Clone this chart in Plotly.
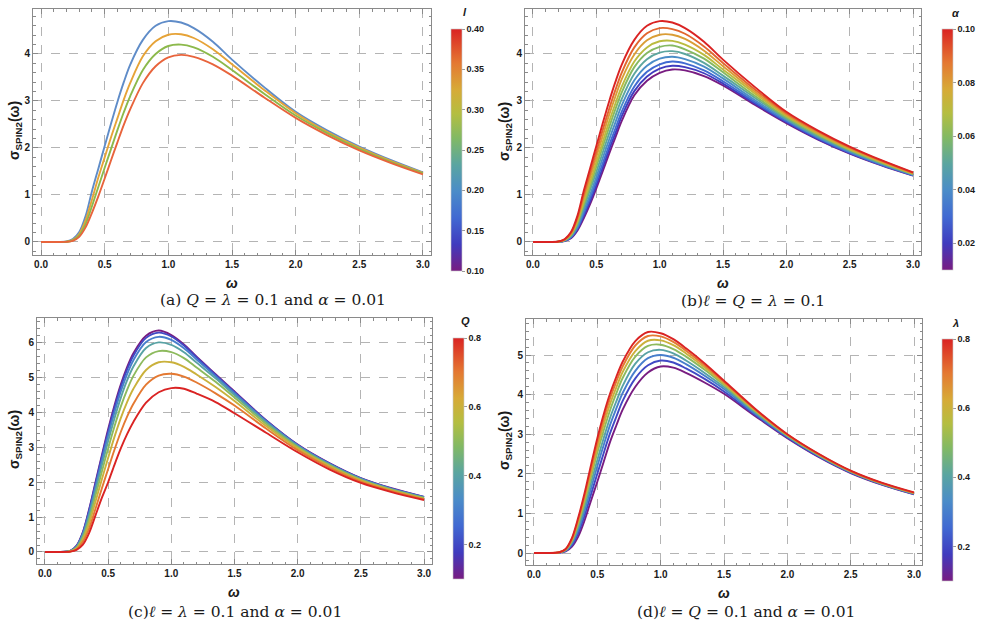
import plotly.graph_objects as go
from plotly.colors import sample_colorscale

W_W = 981
H_H = 629

# ---------------- data ----------------
OMEGA = [0, 0.1, 0.2, 0.25, 0.3, 0.35, 0.4, 0.45, 0.5, 0.55, 0.6, 0.65, 0.7,
         0.8, 0.9, 1.0, 1.1, 1.2, 1.35, 1.5, 1.75, 2.0, 2.25, 2.5, 2.75, 3.0]

# (a) Q = lambda = 0.1, alpha = 0.01, varying l
A_L = [0.1, 0.2, 0.3, 0.4]
A_CURVES = [
    [0, 0, 0.01, 0.06, 0.21, 0.55, 1.08, 1.56, 2.04, 2.52, 2.98, 3.4, 3.77, 4.3, 4.6, 4.7, 4.67, 4.55, 4.26, 3.88, 3.3, 2.77, 2.37, 2.03, 1.74, 1.48],
    [0, 0, 0.005, 0.045, 0.17, 0.46, 0.9, 1.37, 1.8, 2.23, 2.63, 3.03, 3.38, 3.95, 4.27, 4.41, 4.42, 4.34, 4.1, 3.78, 3.24, 2.74, 2.34, 2.01, 1.72, 1.47],
    [0, 0, 0.004, 0.035, 0.14, 0.38, 0.76, 1.17, 1.58, 1.98, 2.38, 2.76, 3.1, 3.66, 4.0, 4.17, 4.2, 4.14, 3.94, 3.66, 3.16, 2.69, 2.31, 1.98, 1.70, 1.46],
    [0, 0, 0.003, 0.025, 0.11, 0.31, 0.62, 0.97, 1.35, 1.74, 2.12, 2.49, 2.82, 3.38, 3.74, 3.93, 3.98, 3.94, 3.78, 3.54, 3.08, 2.64, 2.27, 1.95, 1.68, 1.44],
]

# (b) l = Q = lambda = 0.1, varying alpha
B_ALPHA = [0.01, 0.02, 0.03, 0.04, 0.05, 0.06, 0.07, 0.08, 0.09, 0.10]
B_CURVES = [
    [0, 0, 0.002, 0.02, 0.08, 0.24, 0.5, 0.8, 1.14, 1.5, 1.87, 2.22, 2.57, 3.12, 3.43, 3.6, 3.67, 3.65, 3.53, 3.33, 2.92, 2.53, 2.18, 1.88, 1.63, 1.41],
    [0, 0, 0.003, 0.023, 0.09, 0.265, 0.55, 0.86, 1.21, 1.58, 1.96, 2.31, 2.67, 3.21, 3.52, 3.69, 3.75, 3.72, 3.59, 3.37, 2.95, 2.55, 2.19, 1.89, 1.64, 1.42],
    [0, 0, 0.003, 0.027, 0.1, 0.29, 0.6, 0.93, 1.29, 1.67, 2.05, 2.41, 2.77, 3.31, 3.62, 3.78, 3.84, 3.8, 3.65, 3.42, 2.98, 2.57, 2.21, 1.9, 1.64, 1.42],
    [0, 0, 0.004, 0.03, 0.115, 0.32, 0.66, 1.0, 1.38, 1.78, 2.17, 2.54, 2.9, 3.44, 3.75, 3.9, 3.94, 3.89, 3.73, 3.48, 3.02, 2.6, 2.23, 1.92, 1.66, 1.43],
    [0, 0, 0.005, 0.036, 0.13, 0.36, 0.73, 1.1, 1.49, 1.9, 2.3, 2.68, 3.04, 3.58, 3.89, 4.03, 4.06, 4.0, 3.81, 3.54, 3.07, 2.62, 2.25, 1.94, 1.67, 1.44],
    [0, 0, 0.006, 0.04, 0.145, 0.4, 0.79, 1.18, 1.6, 2.02, 2.43, 2.82, 3.18, 3.72, 4.02, 4.15, 4.18, 4.1, 3.9, 3.61, 3.11, 2.65, 2.28, 1.96, 1.69, 1.45],
    [0, 0, 0.007, 0.045, 0.16, 0.43, 0.85, 1.26, 1.69, 2.12, 2.55, 2.94, 3.3, 3.84, 4.14, 4.27, 4.28, 4.2, 3.98, 3.67, 3.16, 2.68, 2.3, 1.97, 1.7, 1.45],
    [0, 0, 0.008, 0.05, 0.175, 0.47, 0.93, 1.36, 1.81, 2.25, 2.69, 3.09, 3.46, 3.99, 4.29, 4.41, 4.41, 4.32, 4.07, 3.74, 3.2, 2.71, 2.32, 1.99, 1.71, 1.46],
    [0, 0, 0.009, 0.055, 0.19, 0.51, 1.0, 1.46, 1.92, 2.38, 2.82, 3.23, 3.6, 4.14, 4.44, 4.55, 4.53, 4.43, 4.16, 3.81, 3.25, 2.74, 2.35, 2.01, 1.73, 1.47],
    [0, 0, 0.01, 0.06, 0.21, 0.55, 1.08, 1.56, 2.04, 2.52, 2.98, 3.4, 3.77, 4.3, 4.6, 4.7, 4.67, 4.55, 4.26, 3.88, 3.3, 2.77, 2.37, 2.03, 1.74, 1.48],
]

# (c) l = lambda = 0.1, alpha = 0.01, varying Q
C_Q = [0.1, 0.2, 0.3, 0.4, 0.5, 0.6, 0.7, 0.8]
C_CURVES = [
    [0, 0, 0.03, 0.18, 0.57, 1.23, 2.0, 2.77, 3.52, 4.2, 4.8, 5.3, 5.7, 6.2, 6.35, 6.22, 5.95, 5.6, 5.1, 4.6, 3.78, 3.08, 2.55, 2.12, 1.82, 1.58],
    [0, 0, 0.028, 0.17, 0.55, 1.2, 1.96, 2.72, 3.45, 4.13, 4.73, 5.23, 5.63, 6.14, 6.29, 6.18, 5.92, 5.58, 5.08, 4.58, 3.77, 3.07, 2.54, 2.11, 1.81, 1.58],
    [0, 0, 0.025, 0.16, 0.52, 1.13, 1.87, 2.62, 3.34, 4.0, 4.6, 5.1, 5.5, 6.02, 6.17, 6.08, 5.84, 5.52, 5.04, 4.55, 3.75, 3.06, 2.53, 2.1, 1.8, 1.57],
    [0, 0, 0.022, 0.14, 0.48, 1.05, 1.76, 2.48, 3.18, 3.83, 4.42, 4.92, 5.32, 5.85, 6.01, 5.94, 5.73, 5.43, 4.98, 4.5, 3.72, 3.04, 2.51, 2.09, 1.79, 1.56],
    [0, 0, 0.02, 0.12, 0.42, 0.94, 1.62, 2.3, 2.97, 3.6, 4.17, 4.65, 5.05, 5.58, 5.76, 5.73, 5.56, 5.29, 4.88, 4.43, 3.67, 3.01, 2.49, 2.07, 1.78, 1.55],
    [0, 0, 0.017, 0.1, 0.36, 0.82, 1.45, 2.08, 2.7, 3.3, 3.84, 4.3, 4.68, 5.22, 5.44, 5.44, 5.31, 5.09, 4.73, 4.33, 3.61, 2.97, 2.46, 2.05, 1.76, 1.53],
    [0, 0, 0.014, 0.08, 0.29, 0.68, 1.24, 1.82, 2.38, 2.93, 3.44, 3.88, 4.25, 4.8, 5.06, 5.11, 5.03, 4.86, 4.55, 4.2, 3.54, 2.92, 2.42, 2.02, 1.74, 1.51],
    [0, 0, 0.01, 0.06, 0.21, 0.55, 1.05, 1.55, 2.0, 2.5, 2.97, 3.38, 3.73, 4.28, 4.58, 4.7, 4.68, 4.54, 4.3, 3.98, 3.42, 2.86, 2.37, 1.98, 1.71, 1.49],
]

# (d) l = Q = 0.1, alpha = 0.01, varying lambda
D_LAMBDA = [0.1, 0.2, 0.3, 0.4, 0.5, 0.6, 0.7, 0.8]
D_CURVES = [
    [0, 0, 0.006, 0.04, 0.16, 0.42, 0.83, 1.32, 1.8, 2.3, 2.8, 3.22, 3.62, 4.2, 4.56, 4.71, 4.68, 4.55, 4.3, 4.02, 3.45, 2.9, 2.42, 2.02, 1.72, 1.48],
    [0, 0, 0.008, 0.05, 0.2, 0.51, 0.95, 1.48, 2.0, 2.52, 3.02, 3.44, 3.84, 4.41, 4.74, 4.86, 4.81, 4.66, 4.39, 4.08, 3.48, 2.92, 2.43, 2.03, 1.73, 1.49],
    [0, 0, 0.01, 0.06, 0.24, 0.59, 1.07, 1.63, 2.19, 2.72, 3.23, 3.65, 4.04, 4.6, 4.92, 5.0, 4.93, 4.77, 4.47, 4.14, 3.51, 2.94, 2.45, 2.04, 1.74, 1.5],
    [0, 0, 0.013, 0.07, 0.27, 0.66, 1.18, 1.77, 2.35, 2.9, 3.41, 3.83, 4.22, 4.78, 5.07, 5.13, 5.04, 4.86, 4.54, 4.19, 3.54, 2.95, 2.46, 2.05, 1.74, 1.5],
    [0, 0, 0.015, 0.08, 0.31, 0.74, 1.29, 1.91, 2.53, 3.09, 3.6, 4.03, 4.42, 4.96, 5.23, 5.26, 5.15, 4.96, 4.62, 4.24, 3.57, 2.97, 2.47, 2.06, 1.75, 1.51],
    [0, 0, 0.017, 0.09, 0.33, 0.8, 1.38, 2.02, 2.66, 3.24, 3.76, 4.18, 4.57, 5.1, 5.36, 5.37, 5.25, 5.04, 4.68, 4.28, 3.59, 2.98, 2.48, 2.07, 1.76, 1.52],
    [0, 0, 0.019, 0.095, 0.36, 0.85, 1.45, 2.12, 2.78, 3.38, 3.9, 4.33, 4.71, 5.24, 5.48, 5.47, 5.33, 5.11, 4.73, 4.32, 3.61, 2.99, 2.49, 2.07, 1.76, 1.52],
    [0, 0, 0.02, 0.1, 0.38, 0.9, 1.52, 2.22, 2.9, 3.5, 4.02, 4.45, 4.83, 5.35, 5.58, 5.55, 5.4, 5.17, 4.78, 4.35, 3.63, 3.0, 2.5, 2.08, 1.77, 1.53],
]

X_TICKS = [0.0, 0.5, 1.0, 1.5, 2.0, 2.5, 3.0]

# ---------------- style ----------------
COLORSCALE = [
    [0.0, "rgb(120,28,129)"],
    [0.11, "rgb(64,59,190)"],
    [0.22, "rgb(65,105,210)"],
    [0.33, "rgb(75,140,200)"],
    [0.44, "rgb(90,165,160)"],
    [0.55, "rgb(130,185,100)"],
    [0.65, "rgb(180,190,65)"],
    [0.75, "rgb(215,170,55)"],
    [0.86, "rgb(228,120,50)"],
    [1.0, "rgb(218,35,35)"],
]
A_COLORS = ["rgb(95,140,200)", "rgb(230,163,55)", "rgb(140,185,75)", "rgb(232,100,60)"]

FRAME = "#8a8a8a"
GRID = "#b4b4b4"
TXT = "#1a1a1a"
SANS = "Liberation Sans"
SERIF = "DejaVu Serif"


def px_x(px):
    return px / W_W


def px_y(py):
    return 1 - py / H_H


fig = go.Figure()


def add_curves(curves, colors, names, xa, ya):
    for c, col, nm in zip(curves, colors, names):
        fig.add_trace(go.Scatter(
            x=OMEGA, y=c, mode="lines", name=nm,
            line=dict(color=col, width=1.9, shape="spline", smoothing=0.9),
            xaxis=xa, yaxis=ya, showlegend=False, hoverinfo="skip"))


def norm(vals, lo, hi):
    return [(v - lo) / (hi - lo) for v in vals]


add_curves(A_CURVES, A_COLORS, [f"l={v}" for v in A_L], "x", "y")
add_curves(B_CURVES, sample_colorscale(COLORSCALE, norm(B_ALPHA, 0.01, 0.10)),
           [f"alpha={v}" for v in B_ALPHA], "x2", "y2")
add_curves(C_CURVES, sample_colorscale(COLORSCALE, norm(C_Q, 0.1, 0.8)),
           [f"Q={v}" for v in C_Q], "x3", "y3")
add_curves(D_CURVES, sample_colorscale(COLORSCALE, norm(D_LAMBDA, 0.1, 0.8)),
           [f"lambda={v}" for v in D_LAMBDA], "x4", "y4")


def add_cbar(xa, ya, cmin, cmax, tickvals, fmt, x0, ytop, ybot):
    fig.add_trace(go.Scatter(
        x=[None], y=[None], mode="markers", xaxis=xa, yaxis=ya, showlegend=False,
        hoverinfo="skip",
        marker=dict(color=[cmin], colorscale=COLORSCALE, cmin=cmin, cmax=cmax,
                    showscale=True,
                    colorbar=dict(
                        x=px_x(x0), xanchor="left", xpad=0, ypad=0,
                        y=px_y((ytop + ybot) / 2), yanchor="middle",
                        lenmode="pixels", len=ybot - ytop,
                        thicknessmode="pixels", thickness=11,
                        outlinewidth=0.6, outlinecolor="#c8c8c8",
                        tickvals=tickvals, tickformat=fmt,
                        ticks="outside", ticklen=3, tickcolor="#999",
                        tickfont=dict(family=SANS, size=9, color=TXT, weight="bold"),
                    ))))


add_cbar("x", "y", 0.1, 0.4, [0.1, 0.15, 0.2, 0.25, 0.3, 0.35, 0.4], ".2f", 451, 29, 271)
add_cbar("x2", "y2", 0.01, 0.10, [0.02, 0.04, 0.06, 0.08, 0.10], ".2f", 942, 29, 270)
add_cbar("x3", "y3", 0.1, 0.8, [0.2, 0.4, 0.6, 0.8], ".1f", 453, 338, 579)
add_cbar("x4", "y4", 0.1, 0.8, [0.2, 0.4, 0.6, 0.8], ".1f", 942, 339, 581)


def xaxis(px0, px1, anchor):
    return dict(
        domain=[px_x(px0), px_x(px1)], anchor=anchor, range=[-0.063, 3.063],
        showline=True, linecolor=FRAME, linewidth=1, mirror="allticks",
        ticks="inside", ticklen=5, tickcolor=FRAME, tickwidth=1,
        tickvals=X_TICKS, tickformat=".1f",
        tickfont=dict(family=SANS, size=10, color=TXT, weight="bold"),
        showgrid=True, gridcolor=GRID, griddash="dash", gridwidth=1,
        zeroline=False,
        minor=dict(ticks="inside", ticklen=2.5, dtick=0.1, tick0=0,
                   tickcolor=FRAME, showgrid=False),
    )


def yaxis(py0, py1, anchor, rng, top):
    return dict(
        domain=[px_y(py1), px_y(py0)], anchor=anchor, range=rng,
        showline=True, linecolor=FRAME, linewidth=1, mirror="allticks",
        ticks="inside", ticklen=5, tickcolor=FRAME, tickwidth=1,
        tickvals=list(range(0, top + 1)), tickformat="d",
        tickfont=dict(family=SANS, size=10, color=TXT, weight="bold"),
        showgrid=True, gridcolor=GRID, griddash="dash", gridwidth=1,
        zeroline=False,
        minor=dict(ticks="inside", ticklen=2.5, dtick=0.2, tick0=0,
                   tickcolor=FRAME, showgrid=False),
    )


fig.update_layout(
    width=W_W, height=H_H, margin=dict(l=0, r=0, t=0, b=0),
    paper_bgcolor="white", plot_bgcolor="white", showlegend=False,
    xaxis=xaxis(33, 431, "y"),
    yaxis=yaxis(9, 255, "x", [-0.277, 4.957], 4),
    xaxis2=xaxis(525, 921, "y2"),
    yaxis2=yaxis(9, 255, "x2", [-0.277, 4.957], 4),
    xaxis3=xaxis(37, 432, "y3"),
    yaxis3=yaxis(318, 564, "x3", [-0.345, 6.71], 6),
    xaxis4=xaxis(526, 922, "y4"),
    yaxis4=yaxis(319, 565, "x4", [-0.303, 5.909], 5),
)

ann = []


def text(px, py, s, size, family=SANS, angle=0, color=TXT):
    ann.append(dict(x=px_x(px), y=px_y(py), xref="paper", yref="paper", text=s,
                    showarrow=False, xanchor="center", yanchor="middle",
                    textangle=angle, font=dict(family=family, size=size, color=color)))


YLAB = "<b>σ<sub>SPIN2</sub>(ω)</b>"
for (x, y) in [(15, 131), (505, 131), (15, 440), (505, 440)]:
    text(x, y, YLAB, 14, angle=-90)
for (x, y) in [(232, 283), (723, 283), (234, 592), (724, 593)]:
    text(x, y, "<b><i>ω</i></b>", 14)

text(465, 12, "<b><i>l</i></b>", 11)
text(956, 13, "<b><i>α</i></b>", 11)
text(465, 321, "<b><i>Q</i></b>", 11)
text(955, 323, "<b><i>λ</i></b>", 11)

text(273, 300, "(a) <i>Q</i> = <i>λ</i> = 0.1 and <i>α</i> = 0.01", 15.5, family=SERIF)
text(753, 301, "(b)<i>ℓ</i> = <i>Q</i> = <i>λ</i> = 0.1", 15.5, family=SERIF)
text(235, 612, "(c)<i>ℓ</i> = <i>λ</i> = 0.1 and <i>α</i> = 0.01", 15.5, family=SERIF)
text(746, 612, "(d)<i>ℓ</i> = <i>Q</i> = 0.1 and <i>α</i> = 0.01", 15.5, family=SERIF)

fig.update_layout(annotations=ann)
fig.write_html("out.html")
